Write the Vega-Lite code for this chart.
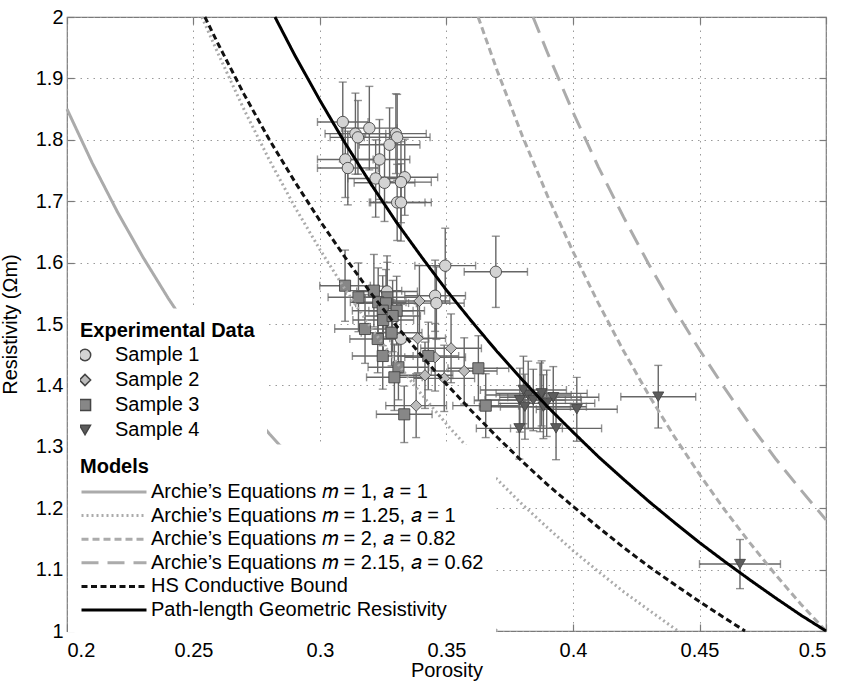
{
  "$schema": "https://vega.github.io/schema/vega-lite/v6.json",
  "width": 759,
  "height": 614,
  "autosize": {"type": "none"},
  "padding": {"left": 67, "top": 17, "right": 21, "bottom": 57},
  "background": "white",
  "config": {
    "font": "Liberation Sans",
    "view": {"stroke": "#7a7a7a", "strokeWidth": 1.2},
    "axis": {
      "labelFontSize": 20,
      "labelColor": "#000000",
      "titleFontSize": 20,
      "titleFontWeight": "normal",
      "titleColor": "#000000",
      "domain": false,
      "tickColor": "#7a7a7a",
      "tickWidth": 1.2,
      "tickSize": -7,
      "gridColor": "#9a9a9a",
      "gridDash": [1.5, 5],
      "gridWidth": 1
    },
    "legend": {
      "orient": "none",
      "fillColor": "white",
      "padding": 12,
      "titleFontSize": 20,
      "titleFontWeight": "bold",
      "titleColor": "#000000",
      "labelFontSize": 20,
      "labelColor": "#000000",
      "clipHeight": 17,
      "labelLimit": 450
    }
  },
  "datasets": {
    "points": [
      {"sample": "Sample 1", "phi": 0.309, "R": 1.829, "dphi": 0.010, "dR": 0.065},
      {"sample": "Sample 1", "phi": 0.3195, "R": 1.819, "dphi": 0.011, "dR": 0.068},
      {"sample": "Sample 1", "phi": 0.314, "R": 1.810, "dphi": 0.012, "dR": 0.066},
      {"sample": "Sample 1", "phi": 0.315, "R": 1.804, "dphi": 0.011, "dR": 0.060},
      {"sample": "Sample 1", "phi": 0.330, "R": 1.810, "dphi": 0.012, "dR": 0.065},
      {"sample": "Sample 1", "phi": 0.3305, "R": 1.804, "dphi": 0.013, "dR": 0.070},
      {"sample": "Sample 1", "phi": 0.3275, "R": 1.792, "dphi": 0.012, "dR": 0.060},
      {"sample": "Sample 1", "phi": 0.310, "R": 1.768, "dphi": 0.011, "dR": 0.062},
      {"sample": "Sample 1", "phi": 0.3235, "R": 1.768, "dphi": 0.012, "dR": 0.065},
      {"sample": "Sample 1", "phi": 0.311, "R": 1.754, "dphi": 0.012, "dR": 0.060},
      {"sample": "Sample 1", "phi": 0.322, "R": 1.737, "dphi": 0.011, "dR": 0.063},
      {"sample": "Sample 1", "phi": 0.3255, "R": 1.730, "dphi": 0.012, "dR": 0.063},
      {"sample": "Sample 1", "phi": 0.3335, "R": 1.739, "dphi": 0.013, "dR": 0.062},
      {"sample": "Sample 1", "phi": 0.332, "R": 1.731, "dphi": 0.012, "dR": 0.066},
      {"sample": "Sample 1", "phi": 0.3305, "R": 1.698, "dphi": 0.011, "dR": 0.062},
      {"sample": "Sample 1", "phi": 0.332, "R": 1.698, "dphi": 0.012, "dR": 0.063},
      {"sample": "Sample 1", "phi": 0.3495, "R": 1.595, "dphi": 0.012, "dR": 0.061},
      {"sample": "Sample 1", "phi": 0.3695, "R": 1.585, "dphi": 0.0125, "dR": 0.058},
      {"sample": "Sample 1", "phi": 0.3455, "R": 1.546, "dphi": 0.012, "dR": 0.058},
      {"sample": "Sample 1", "phi": 0.346, "R": 1.534, "dphi": 0.011, "dR": 0.059},
      {"sample": "Sample 1", "phi": 0.3265, "R": 1.553, "dphi": 0.012, "dR": 0.058},
      {"sample": "Sample 1", "phi": 0.332, "R": 1.476, "dphi": 0.011, "dR": 0.056},
      {"sample": "Sample 2", "phi": 0.3393, "R": 1.5375, "dphi": 0.012, "dR": 0.058},
      {"sample": "Sample 2", "phi": 0.3386, "R": 1.4767, "dphi": 0.011, "dR": 0.056},
      {"sample": "Sample 2", "phi": 0.3518, "R": 1.4604, "dphi": 0.012, "dR": 0.056},
      {"sample": "Sample 2", "phi": 0.3455, "R": 1.4458, "dphi": 0.012, "dR": 0.055},
      {"sample": "Sample 2", "phi": 0.357, "R": 1.4235, "dphi": 0.013, "dR": 0.054},
      {"sample": "Sample 2", "phi": 0.3415, "R": 1.4165, "dphi": 0.011, "dR": 0.054},
      {"sample": "Sample 2", "phi": 0.338, "R": 1.367, "dphi": 0.012, "dR": 0.052},
      {"sample": "Sample 2", "phi": 0.3491, "R": 1.4115, "dphi": 0.012, "dR": 0.054},
      {"sample": "Sample 3", "phi": 0.3099, "R": 1.5624, "dphi": 0.010, "dR": 0.058},
      {"sample": "Sample 3", "phi": 0.3152, "R": 1.5435, "dphi": 0.012, "dR": 0.056},
      {"sample": "Sample 3", "phi": 0.3213, "R": 1.5543, "dphi": 0.011, "dR": 0.059},
      {"sample": "Sample 3", "phi": 0.3266, "R": 1.5435, "dphi": 0.012, "dR": 0.057},
      {"sample": "Sample 3", "phi": 0.323, "R": 1.5354, "dphi": 0.011, "dR": 0.056},
      {"sample": "Sample 3", "phi": 0.3261, "R": 1.5337, "dphi": 0.012, "dR": 0.055},
      {"sample": "Sample 3", "phi": 0.3248, "R": 1.5217, "dphi": 0.012, "dR": 0.057},
      {"sample": "Sample 3", "phi": 0.3303, "R": 1.5217, "dphi": 0.011, "dR": 0.056},
      {"sample": "Sample 3", "phi": 0.325, "R": 1.5065, "dphi": 0.012, "dR": 0.055},
      {"sample": "Sample 3", "phi": 0.3287, "R": 1.513, "dphi": 0.011, "dR": 0.058},
      {"sample": "Sample 3", "phi": 0.3178, "R": 1.4919, "dphi": 0.012, "dR": 0.056},
      {"sample": "Sample 3", "phi": 0.3283, "R": 1.4858, "dphi": 0.012, "dR": 0.054},
      {"sample": "Sample 3", "phi": 0.3228, "R": 1.4756, "dphi": 0.011, "dR": 0.055},
      {"sample": "Sample 3", "phi": 0.3248, "R": 1.4479, "dphi": 0.012, "dR": 0.054},
      {"sample": "Sample 3", "phi": 0.331, "R": 1.4295, "dphi": 0.012, "dR": 0.053},
      {"sample": "Sample 3", "phi": 0.3294, "R": 1.4132, "dphi": 0.011, "dR": 0.054},
      {"sample": "Sample 3", "phi": 0.3428, "R": 1.4479, "dphi": 0.012, "dR": 0.055},
      {"sample": "Sample 3", "phi": 0.3626, "R": 1.4279, "dphi": 0.012, "dR": 0.053},
      {"sample": "Sample 3", "phi": 0.3655, "R": 1.367, "dphi": 0.013, "dR": 0.052},
      {"sample": "Sample 3", "phi": 0.3333, "R": 1.3529, "dphi": 0.011, "dR": 0.046},
      {"sample": "Sample 4", "phi": 0.379, "R": 1.376, "dphi": 0.018, "dR": 0.052},
      {"sample": "Sample 4", "phi": 0.3823, "R": 1.3844, "dphi": 0.017, "dR": 0.055},
      {"sample": "Sample 4", "phi": 0.3843, "R": 1.3762, "dphi": 0.019, "dR": 0.050},
      {"sample": "Sample 4", "phi": 0.387, "R": 1.3806, "dphi": 0.016, "dR": 0.056},
      {"sample": "Sample 4", "phi": 0.381, "R": 1.3653, "dphi": 0.018, "dR": 0.053},
      {"sample": "Sample 4", "phi": 0.3883, "R": 1.3653, "dphi": 0.017, "dR": 0.052},
      {"sample": "Sample 4", "phi": 0.3922, "R": 1.3806, "dphi": 0.018, "dR": 0.050},
      {"sample": "Sample 4", "phi": 0.4015, "R": 1.3611, "dphi": 0.016, "dR": 0.052},
      {"sample": "Sample 4", "phi": 0.3788, "R": 1.330, "dphi": 0.017, "dR": 0.050},
      {"sample": "Sample 4", "phi": 0.3933, "R": 1.330, "dphi": 0.018, "dR": 0.051},
      {"sample": "Sample 4", "phi": 0.3896, "R": 1.3708, "dphi": 0.019, "dR": 0.054},
      {"sample": "Sample 4", "phi": 0.3804, "R": 1.3925, "dphi": 0.017, "dR": 0.055},
      {"sample": "Sample 4", "phi": 0.3876, "R": 1.387, "dphi": 0.018, "dR": 0.053},
      {"sample": "Sample 4", "phi": 0.4337, "R": 1.3816, "dphi": 0.0148, "dR": 0.051},
      {"sample": "Sample 4", "phi": 0.466, "R": 1.109, "dphi": 0.016, "dR": 0.040}
    ],
    "curves": [
      {"model": "Archie’s Equations 𝑚 = 1, 𝑎 = 1", "phi": 0.20, "R": 1.850},
      {"model": "Archie’s Equations 𝑚 = 1, 𝑎 = 1", "phi": 0.21, "R": 1.762},
      {"model": "Archie’s Equations 𝑚 = 1, 𝑎 = 1", "phi": 0.22, "R": 1.682},
      {"model": "Archie’s Equations 𝑚 = 1, 𝑎 = 1", "phi": 0.23, "R": 1.609},
      {"model": "Archie’s Equations 𝑚 = 1, 𝑎 = 1", "phi": 0.24, "R": 1.542},
      {"model": "Archie’s Equations 𝑚 = 1, 𝑎 = 1", "phi": 0.25, "R": 1.480},
      {"model": "Archie’s Equations 𝑚 = 1, 𝑎 = 1", "phi": 0.26, "R": 1.423},
      {"model": "Archie’s Equations 𝑚 = 1, 𝑎 = 1", "phi": 0.27, "R": 1.370},
      {"model": "Archie’s Equations 𝑚 = 1, 𝑎 = 1", "phi": 0.28, "R": 1.321},
      {"model": "Archie’s Equations 𝑚 = 1, 𝑎 = 1", "phi": 0.29, "R": 1.276},
      {"model": "Archie’s Equations 𝑚 = 1, 𝑎 = 1", "phi": 0.30, "R": 1.233},
      {"model": "Archie’s Equations 𝑚 = 1, 𝑎 = 1", "phi": 0.31, "R": 1.194},
      {"model": "Archie’s Equations 𝑚 = 1, 𝑎 = 1", "phi": 0.32, "R": 1.156},
      {"model": "Archie’s Equations 𝑚 = 1, 𝑎 = 1", "phi": 0.33, "R": 1.121},
      {"model": "Archie’s Equations 𝑚 = 1, 𝑎 = 1", "phi": 0.34, "R": 1.088},
      {"model": "Archie’s Equations 𝑚 = 1, 𝑎 = 1", "phi": 0.35, "R": 1.057},
      {"model": "Archie’s Equations 𝑚 = 1, 𝑎 = 1", "phi": 0.36, "R": 1.028},
      {"model": "Archie’s Equations 𝑚 = 1, 𝑎 = 1", "phi": 0.37, "R": 1.000},
      {"model": "Archie’s Equations 𝑚 = 1.25, 𝑎 = 1", "phi": 0.2533, "R": 2.000},
      {"model": "Archie’s Equations 𝑚 = 1.25, 𝑎 = 1", "phi": 0.26, "R": 1.938},
      {"model": "Archie’s Equations 𝑚 = 1.25, 𝑎 = 1", "phi": 0.27, "R": 1.849},
      {"model": "Archie’s Equations 𝑚 = 1.25, 𝑎 = 1", "phi": 0.28, "R": 1.767},
      {"model": "Archie’s Equations 𝑚 = 1.25, 𝑎 = 1", "phi": 0.29, "R": 1.691},
      {"model": "Archie’s Equations 𝑚 = 1.25, 𝑎 = 1", "phi": 0.30, "R": 1.621},
      {"model": "Archie’s Equations 𝑚 = 1.25, 𝑎 = 1", "phi": 0.31, "R": 1.556},
      {"model": "Archie’s Equations 𝑚 = 1.25, 𝑎 = 1", "phi": 0.32, "R": 1.495},
      {"model": "Archie’s Equations 𝑚 = 1.25, 𝑎 = 1", "phi": 0.33, "R": 1.439},
      {"model": "Archie’s Equations 𝑚 = 1.25, 𝑎 = 1", "phi": 0.34, "R": 1.386},
      {"model": "Archie’s Equations 𝑚 = 1.25, 𝑎 = 1", "phi": 0.35, "R": 1.337},
      {"model": "Archie’s Equations 𝑚 = 1.25, 𝑎 = 1", "phi": 0.36, "R": 1.291},
      {"model": "Archie’s Equations 𝑚 = 1.25, 𝑎 = 1", "phi": 0.37, "R": 1.247},
      {"model": "Archie’s Equations 𝑚 = 1.25, 𝑎 = 1", "phi": 0.38, "R": 1.206},
      {"model": "Archie’s Equations 𝑚 = 1.25, 𝑎 = 1", "phi": 0.39, "R": 1.168},
      {"model": "Archie’s Equations 𝑚 = 1.25, 𝑎 = 1", "phi": 0.40, "R": 1.131},
      {"model": "Archie’s Equations 𝑚 = 1.25, 𝑎 = 1", "phi": 0.41, "R": 1.097},
      {"model": "Archie’s Equations 𝑚 = 1.25, 𝑎 = 1", "phi": 0.42, "R": 1.064},
      {"model": "Archie’s Equations 𝑚 = 1.25, 𝑎 = 1", "phi": 0.43, "R": 1.034},
      {"model": "Archie’s Equations 𝑚 = 1.25, 𝑎 = 1", "phi": 0.4415, "R": 1.000},
      {"model": "Archie’s Equations 𝑚 = 2, 𝑎 = 0.82", "phi": 0.3625, "R": 2.000},
      {"model": "Archie’s Equations 𝑚 = 2, 𝑎 = 0.82", "phi": 0.37, "R": 1.913},
      {"model": "Archie’s Equations 𝑚 = 2, 𝑎 = 0.82", "phi": 0.38, "R": 1.806},
      {"model": "Archie’s Equations 𝑚 = 2, 𝑎 = 0.82", "phi": 0.39, "R": 1.708},
      {"model": "Archie’s Equations 𝑚 = 2, 𝑎 = 0.82", "phi": 0.40, "R": 1.618},
      {"model": "Archie’s Equations 𝑚 = 2, 𝑎 = 0.82", "phi": 0.41, "R": 1.534},
      {"model": "Archie’s Equations 𝑚 = 2, 𝑎 = 0.82", "phi": 0.42, "R": 1.456},
      {"model": "Archie’s Equations 𝑚 = 2, 𝑎 = 0.82", "phi": 0.43, "R": 1.384},
      {"model": "Archie’s Equations 𝑚 = 2, 𝑎 = 0.82", "phi": 0.44, "R": 1.317},
      {"model": "Archie’s Equations 𝑚 = 2, 𝑎 = 0.82", "phi": 0.45, "R": 1.255},
      {"model": "Archie’s Equations 𝑚 = 2, 𝑎 = 0.82", "phi": 0.46, "R": 1.197},
      {"model": "Archie’s Equations 𝑚 = 2, 𝑎 = 0.82", "phi": 0.47, "R": 1.143},
      {"model": "Archie’s Equations 𝑚 = 2, 𝑎 = 0.82", "phi": 0.48, "R": 1.092},
      {"model": "Archie’s Equations 𝑚 = 2, 𝑎 = 0.82", "phi": 0.49, "R": 1.044},
      {"model": "Archie’s Equations 𝑚 = 2, 𝑎 = 0.82", "phi": 0.50, "R": 1.000},
      {"model": "Archie’s Equations 𝑚 = 2.15, 𝑎 = 0.62", "phi": 0.3842, "R": 2.000},
      {"model": "Archie’s Equations 𝑚 = 2.15, 𝑎 = 0.62", "phi": 0.39, "R": 1.941},
      {"model": "Archie’s Equations 𝑚 = 2.15, 𝑎 = 0.62", "phi": 0.40, "R": 1.845},
      {"model": "Archie’s Equations 𝑚 = 2.15, 𝑎 = 0.62", "phi": 0.41, "R": 1.756},
      {"model": "Archie’s Equations 𝑚 = 2.15, 𝑎 = 0.62", "phi": 0.42, "R": 1.674},
      {"model": "Archie’s Equations 𝑚 = 2.15, 𝑎 = 0.62", "phi": 0.43, "R": 1.597},
      {"model": "Archie’s Equations 𝑚 = 2.15, 𝑎 = 0.62", "phi": 0.44, "R": 1.525},
      {"model": "Archie’s Equations 𝑚 = 2.15, 𝑎 = 0.62", "phi": 0.45, "R": 1.458},
      {"model": "Archie’s Equations 𝑚 = 2.15, 𝑎 = 0.62", "phi": 0.46, "R": 1.395},
      {"model": "Archie’s Equations 𝑚 = 2.15, 𝑎 = 0.62", "phi": 0.47, "R": 1.336},
      {"model": "Archie’s Equations 𝑚 = 2.15, 𝑎 = 0.62", "phi": 0.48, "R": 1.281},
      {"model": "Archie’s Equations 𝑚 = 2.15, 𝑎 = 0.62", "phi": 0.49, "R": 1.230},
      {"model": "Archie’s Equations 𝑚 = 2.15, 𝑎 = 0.62", "phi": 0.50, "R": 1.181},
      {"model": "HS Conductive Bound", "phi": 0.2545, "R": 2.000},
      {"model": "HS Conductive Bound", "phi": 0.26, "R": 1.954},
      {"model": "HS Conductive Bound", "phi": 0.27, "R": 1.874},
      {"model": "HS Conductive Bound", "phi": 0.28, "R": 1.800},
      {"model": "HS Conductive Bound", "phi": 0.29, "R": 1.732},
      {"model": "HS Conductive Bound", "phi": 0.30, "R": 1.668},
      {"model": "HS Conductive Bound", "phi": 0.31, "R": 1.608},
      {"model": "HS Conductive Bound", "phi": 0.32, "R": 1.551},
      {"model": "HS Conductive Bound", "phi": 0.33, "R": 1.498},
      {"model": "HS Conductive Bound", "phi": 0.34, "R": 1.449},
      {"model": "HS Conductive Bound", "phi": 0.35, "R": 1.402},
      {"model": "HS Conductive Bound", "phi": 0.36, "R": 1.358},
      {"model": "HS Conductive Bound", "phi": 0.37, "R": 1.316},
      {"model": "HS Conductive Bound", "phi": 0.38, "R": 1.276},
      {"model": "HS Conductive Bound", "phi": 0.39, "R": 1.238},
      {"model": "HS Conductive Bound", "phi": 0.40, "R": 1.203},
      {"model": "HS Conductive Bound", "phi": 0.41, "R": 1.169},
      {"model": "HS Conductive Bound", "phi": 0.42, "R": 1.136},
      {"model": "HS Conductive Bound", "phi": 0.43, "R": 1.105},
      {"model": "HS Conductive Bound", "phi": 0.44, "R": 1.076},
      {"model": "HS Conductive Bound", "phi": 0.45, "R": 1.048},
      {"model": "HS Conductive Bound", "phi": 0.46, "R": 1.021},
      {"model": "HS Conductive Bound", "phi": 0.468, "R": 1.000},
      {"model": "Path-length Geometric Resistivity", "phi": 0.2822, "R": 2.000},
      {"model": "Path-length Geometric Resistivity", "phi": 0.29, "R": 1.938},
      {"model": "Path-length Geometric Resistivity", "phi": 0.30, "R": 1.864},
      {"model": "Path-length Geometric Resistivity", "phi": 0.31, "R": 1.794},
      {"model": "Path-length Geometric Resistivity", "phi": 0.32, "R": 1.729},
      {"model": "Path-length Geometric Resistivity", "phi": 0.33, "R": 1.667},
      {"model": "Path-length Geometric Resistivity", "phi": 0.34, "R": 1.610},
      {"model": "Path-length Geometric Resistivity", "phi": 0.35, "R": 1.555},
      {"model": "Path-length Geometric Resistivity", "phi": 0.36, "R": 1.504},
      {"model": "Path-length Geometric Resistivity", "phi": 0.37, "R": 1.455},
      {"model": "Path-length Geometric Resistivity", "phi": 0.38, "R": 1.409},
      {"model": "Path-length Geometric Resistivity", "phi": 0.39, "R": 1.365},
      {"model": "Path-length Geometric Resistivity", "phi": 0.40, "R": 1.324},
      {"model": "Path-length Geometric Resistivity", "phi": 0.41, "R": 1.284},
      {"model": "Path-length Geometric Resistivity", "phi": 0.42, "R": 1.247},
      {"model": "Path-length Geometric Resistivity", "phi": 0.43, "R": 1.211},
      {"model": "Path-length Geometric Resistivity", "phi": 0.44, "R": 1.177},
      {"model": "Path-length Geometric Resistivity", "phi": 0.45, "R": 1.144},
      {"model": "Path-length Geometric Resistivity", "phi": 0.46, "R": 1.113},
      {"model": "Path-length Geometric Resistivity", "phi": 0.47, "R": 1.083},
      {"model": "Path-length Geometric Resistivity", "phi": 0.48, "R": 1.054},
      {"model": "Path-length Geometric Resistivity", "phi": 0.49, "R": 1.026},
      {"model": "Path-length Geometric Resistivity", "phi": 0.50, "R": 1.000}
    ]
  },
  "layer": [
    {
      "data": {"name": "points"},
      "mark": {"type": "errorbar", "ticks": {"size": 8}, "color": "#666666", "thickness": 1.4},
      "encoding": {
        "x": {"field": "phi", "type": "quantitative", "scale": {"domain": [0.2, 0.5], "nice": false, "zero": false}, "axis": null},
        "y": {"field": "R", "type": "quantitative", "scale": {"domain": [1, 2], "nice": false, "zero": false}, "axis": null},
        "yError": {"field": "dR"}
      }
    },
    {
      "data": {"name": "points"},
      "mark": {"type": "errorbar", "ticks": {"size": 8}, "color": "#666666", "thickness": 1.4},
      "encoding": {
        "x": {"field": "phi", "type": "quantitative", "scale": {"domain": [0.2, 0.5], "nice": false, "zero": false}, "axis": null},
        "y": {"field": "R", "type": "quantitative", "scale": {"domain": [1, 2], "nice": false, "zero": false}, "axis": null},
        "xError": {"field": "dphi"}
      }
    },
    {
      "data": {"name": "points"},
      "mark": {"type": "point", "filled": true, "stroke": "#454545", "strokeWidth": 0.9, "opacity": 1},
      "encoding": {
        "x": {
          "field": "phi", "type": "quantitative",
          "scale": {"domain": [0.2, 0.5], "nice": false, "zero": false},
          "axis": {"orient": "bottom", "title": "Porosity", "values": [0.2, 0.25, 0.3, 0.35, 0.4, 0.45, 0.5], "format": "~g", "grid": true, "labelPadding": 16.5, "titlePadding": 0}
        },
        "y": {
          "field": "R", "type": "quantitative",
          "scale": {"domain": [1, 2], "nice": false, "zero": false},
          "axis": {"orient": "left", "title": "Resistivity (Ωm)", "values": [1, 1.1, 1.2, 1.3, 1.4, 1.5, 1.6, 1.7, 1.8, 1.9, 2], "format": "~g", "grid": true, "labelPadding": 11, "titlePadding": 15}
        },
        "shape": {
          "field": "sample", "type": "nominal",
          "scale": {"domain": ["Sample 1", "Sample 2", "Sample 3", "Sample 4"], "range": ["circle", "diamond", "square", "triangle-down"]},
          "legend": {"title": "Experimental Data", "legendX": 1, "legendY": 291.5, "titlePadding": 6, "labelOffset": 20, "symbolOffset": -5, "rowPadding": 4, "encode": {"symbols": {"update": {"stroke": {"value": "#454545"}, "strokeWidth": {"value": 0.9}, "opacity": {"value": 1}}}}}
        },
        "fill": {
          "field": "sample", "type": "nominal",
          "scale": {"domain": ["Sample 1", "Sample 2", "Sample 3", "Sample 4"], "range": ["#d3d3d3", "#bcbcbc", "#878787", "#5c5c5c"]},
          "legend": {"title": "Experimental Data", "legendX": 1, "legendY": 291.5, "titlePadding": 6, "labelOffset": 20, "symbolOffset": -5, "rowPadding": 4, "encode": {"symbols": {"update": {"stroke": {"value": "#454545"}, "strokeWidth": {"value": 0.9}, "opacity": {"value": 1}}}}}
        },
        "size": {
          "field": "sample", "type": "nominal",
          "scale": {"domain": ["Sample 1", "Sample 2", "Sample 3", "Sample 4"], "range": [130, 120, 80, 130]},
          "legend": {"title": "Experimental Data", "legendX": 1, "legendY": 291.5, "titlePadding": 6, "labelOffset": 20, "symbolOffset": -5, "rowPadding": 4, "encode": {"symbols": {"update": {"stroke": {"value": "#454545"}, "strokeWidth": {"value": 0.9}, "opacity": {"value": 1}}}}}
        }
      }
    },
    {
      "data": {"name": "curves"},
      "mark": {"type": "line", "strokeCap": "butt"},
      "encoding": {
        "x": {
          "field": "phi", "type": "quantitative",
          "scale": {"domain": [0.2, 0.5], "nice": false, "zero": false},
          "axis": {"orient": "top", "title": null, "labels": false, "grid": false, "values": [0.2, 0.25, 0.3, 0.35, 0.4, 0.45, 0.5]}
        },
        "y": {
          "field": "R", "type": "quantitative",
          "scale": {"domain": [1, 2], "nice": false, "zero": false},
          "axis": {"orient": "right", "title": null, "labels": false, "grid": false, "values": [1, 1.1, 1.2, 1.3, 1.4, 1.5, 1.6, 1.7, 1.8, 1.9, 2]}
        },
        "stroke": {
          "field": "model", "type": "nominal",
          "scale": {
            "domain": ["Archie’s Equations 𝑚 = 1, 𝑎 = 1", "Archie’s Equations 𝑚 = 1.25, 𝑎 = 1", "Archie’s Equations 𝑚 = 2, 𝑎 = 0.82", "Archie’s Equations 𝑚 = 2.15, 𝑎 = 0.62", "HS Conductive Bound", "Path-length Geometric Resistivity"],
            "range": ["#ababab", "#ababab", "#ababab", "#ababab", "#111111", "#000000"]
          },
          "legend": {"title": "Models", "legendX": 1, "legendY": 427.5, "titlePadding": 7, "labelOffset": 3, "rowPadding": 2.6, "symbolType": "stroke", "symbolSize": 4225}
        },
        "strokeDash": {
          "field": "model", "type": "nominal",
          "scale": {
            "domain": ["Archie’s Equations 𝑚 = 1, 𝑎 = 1", "Archie’s Equations 𝑚 = 1.25, 𝑎 = 1", "Archie’s Equations 𝑚 = 2, 𝑎 = 0.82", "Archie’s Equations 𝑚 = 2.15, 𝑎 = 0.62", "HS Conductive Bound", "Path-length Geometric Resistivity"],
            "range": [[1, 0], [2, 3], [7, 4], [17, 9], [6, 3.5], [1, 0]]
          },
          "legend": {"title": "Models", "legendX": 1, "legendY": 427.5, "titlePadding": 7, "labelOffset": 3, "rowPadding": 2.6, "symbolType": "stroke", "symbolSize": 4225}
        },
        "strokeWidth": {
          "field": "model", "type": "nominal",
          "scale": {
            "domain": ["Archie’s Equations 𝑚 = 1, 𝑎 = 1", "Archie’s Equations 𝑚 = 1.25, 𝑎 = 1", "Archie’s Equations 𝑚 = 2, 𝑎 = 0.82", "Archie’s Equations 𝑚 = 2.15, 𝑎 = 0.62", "HS Conductive Bound", "Path-length Geometric Resistivity"],
            "range": [3, 3, 3, 3, 3, 2.6]
          },
          "legend": {"title": "Models", "legendX": 1, "legendY": 427.5, "titlePadding": 7, "labelOffset": 3, "rowPadding": 2.6, "symbolType": "stroke", "symbolSize": 4225}
        },
        "detail": {"field": "model"}
      }
    }
  ],
  "resolve": {"axis": {"x": "independent", "y": "independent"}}
}
